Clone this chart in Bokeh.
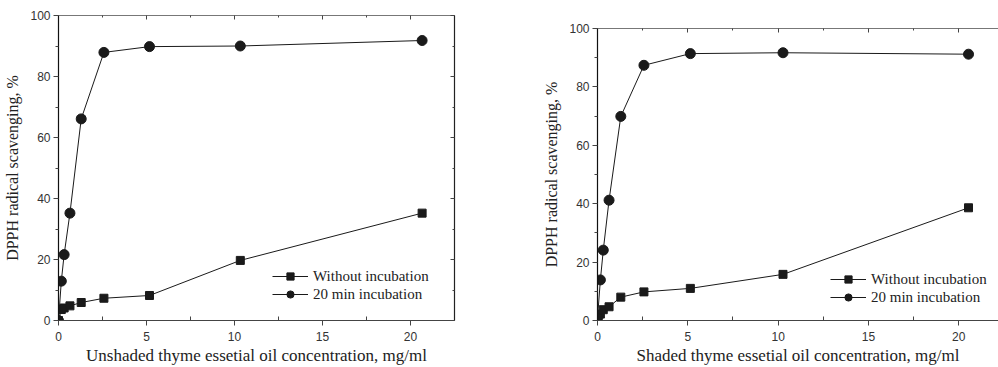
from bokeh.plotting import figure
from bokeh.layouts import row, column
from bokeh.models import Range1d, LinearAxis, Legend, LegendItem, FixedTicker
from bokeh.embed import file_html
from bokeh.resources import INLINE

# ---- data ----
left_conc = [0, 0.16, 0.32, 0.65, 1.29, 2.58, 5.17, 10.33, 20.66]
left_without = [0, 3.6, 4.1, 4.8, 5.9, 7.3, 8.2, 19.7, 35.2]
left_20min = [0, 12.9, 21.6, 35.2, 66.1, 87.9, 89.8, 90.0, 91.8]

right_conc = [0, 0.16, 0.32, 0.64, 1.29, 2.57, 5.14, 10.27, 20.54]
right_without = [0.8, 2.2, 3.7, 4.7, 8.0, 9.8, 11.0, 15.8, 38.6]
right_20min = [0.8, 13.9, 24.1, 41.2, 69.9, 87.4, 91.4, 91.7, 91.2]

x_ticks = [0, 5, 10, 15, 20]
x_minor = [2.5, 7.5, 12.5, 17.5, 22.5]
y_ticks = [0, 20, 40, 60, 80, 100]
y_minor = [10, 30, 50, 70, 90]
series_names = ["Without incubation", "20 min incubation"]
y_label = "DPPH radical scavenging, %"
left_xlabel = "Unshaded thyme essetial oil concentration, mg/ml"
right_xlabel = "Shaded thyme essetial oil concentration, mg/ml"

SERIF = "Liberation Serif"
SANS = "Liberation Sans"
INK = "#1a1a1a"


def base_axis(ax):
    ax.axis_line_color = "#444444"
    ax.axis_line_width = 1.2
    ax.major_tick_line_color = "#444444"
    ax.minor_tick_line_color = "#444444"


def label_axis(ax):
    base_axis(ax)
    ax.major_label_text_font = SANS
    ax.major_label_text_font_size = "12px"
    ax.major_label_text_color = "#333333"
    ax.major_label_text_line_height = 1.0
    ax.axis_label_text_font = SERIF
    ax.axis_label_text_font_style = "normal"
    ax.axis_label_text_color = "#222222"
    ax.axis_label_text_line_height = 1.0


def blank_axis(ticks, minor):
    ax = LinearAxis(ticker=FixedTicker(ticks=ticks, minor_ticks=minor))
    base_axis(ax)
    ax.major_label_overrides = {t: "" for t in ticks}
    ax.major_label_text_font_size = "2px"
    ax.major_label_standoff = 0
    ax.axis_label_standoff = 0
    ax.major_tick_in = 4
    ax.major_tick_out = 0
    ax.minor_tick_in = 2
    ax.minor_tick_out = 0
    return ax


def make(conc, wo, w20, xlabel, width, bl, br, bt, bb, xend, legend_xy, right_axis):
    p = figure(width=width, height=367, x_range=Range1d(0, xend), y_range=Range1d(0, 100),
               output_backend="svg", toolbar_location=None,
               min_border_left=bl, min_border_right=br, min_border_top=bt, min_border_bottom=bb)
    p.grid.visible = False
    p.outline_line_color = None
    p.background_fill_color = "white"

    xa = p.xaxis[0]
    ya = p.yaxis[0]
    xa.ticker = FixedTicker(ticks=x_ticks, minor_ticks=x_minor)
    ya.ticker = FixedTicker(ticks=y_ticks, minor_ticks=y_minor)
    label_axis(xa)
    label_axis(ya)
    xa.axis_label_text_font_size = "17px"
    ya.axis_label_text_font_size = "16px"
    ya.axis_line_color = "#111111"
    xa.axis_label = xlabel
    ya.axis_label = y_label
    xa.major_tick_out = 5
    xa.major_tick_in = 0
    xa.minor_tick_in = 4
    xa.minor_tick_out = 0
    ya.major_tick_out = 5
    ya.major_tick_in = 0
    ya.minor_tick_out = 3
    ya.minor_tick_in = 0
    xa.major_label_standoff = 6
    ya.major_label_standoff = 3
    xa.axis_label_standoff = 2
    ya.axis_label_standoff = 6

    top = blank_axis(x_ticks, x_minor)
    top.axis_line_color = "#777777"
    p.add_layout(top, "above")
    if right_axis:
        rt = blank_axis(y_ticks, y_minor)
        rt.axis_line_color = "#222222"
        p.add_layout(rt, "right")

    l1 = p.line(conc, wo, line_color=INK, line_width=1)
    s1 = p.scatter(conc, wo, marker="square", size=8, fill_color=INK, line_color=INK)
    l2 = p.line(conc, w20, line_color=INK, line_width=1)
    s2 = p.scatter(conc, w20, marker="circle", size=10, fill_color=INK, line_color=INK)

    leg = Legend(items=[LegendItem(label=series_names[0], renderers=[l1, s1]),
                        LegendItem(label=series_names[1], renderers=[l2, s2])],
                 location=legend_xy)
    leg.border_line_color = None
    leg.background_fill_alpha = 0
    leg.padding = 0
    leg.margin = 0
    leg.spacing = 0
    leg.glyph_width = 36
    leg.glyph_height = 18
    leg.label_height = 18
    leg.label_standoff = 5
    leg.label_text_font = SERIF
    leg.label_text_font_size = "15px"
    leg.label_text_color = "#222222"
    p.add_layout(leg, "center")
    return p


left = make(left_conc, left_without, left_20min, left_xlabel, 470, 58, 16, 15, 44, 22.5, (214, 17), True)
right = make(right_conc, right_without, right_20min, right_xlabel, 528, 127, 0, 28, 42, 22.2, (233, 14), False)

layout = row(column(left), column(right))
open("out.html", "w").write(file_html(layout, INLINE))
